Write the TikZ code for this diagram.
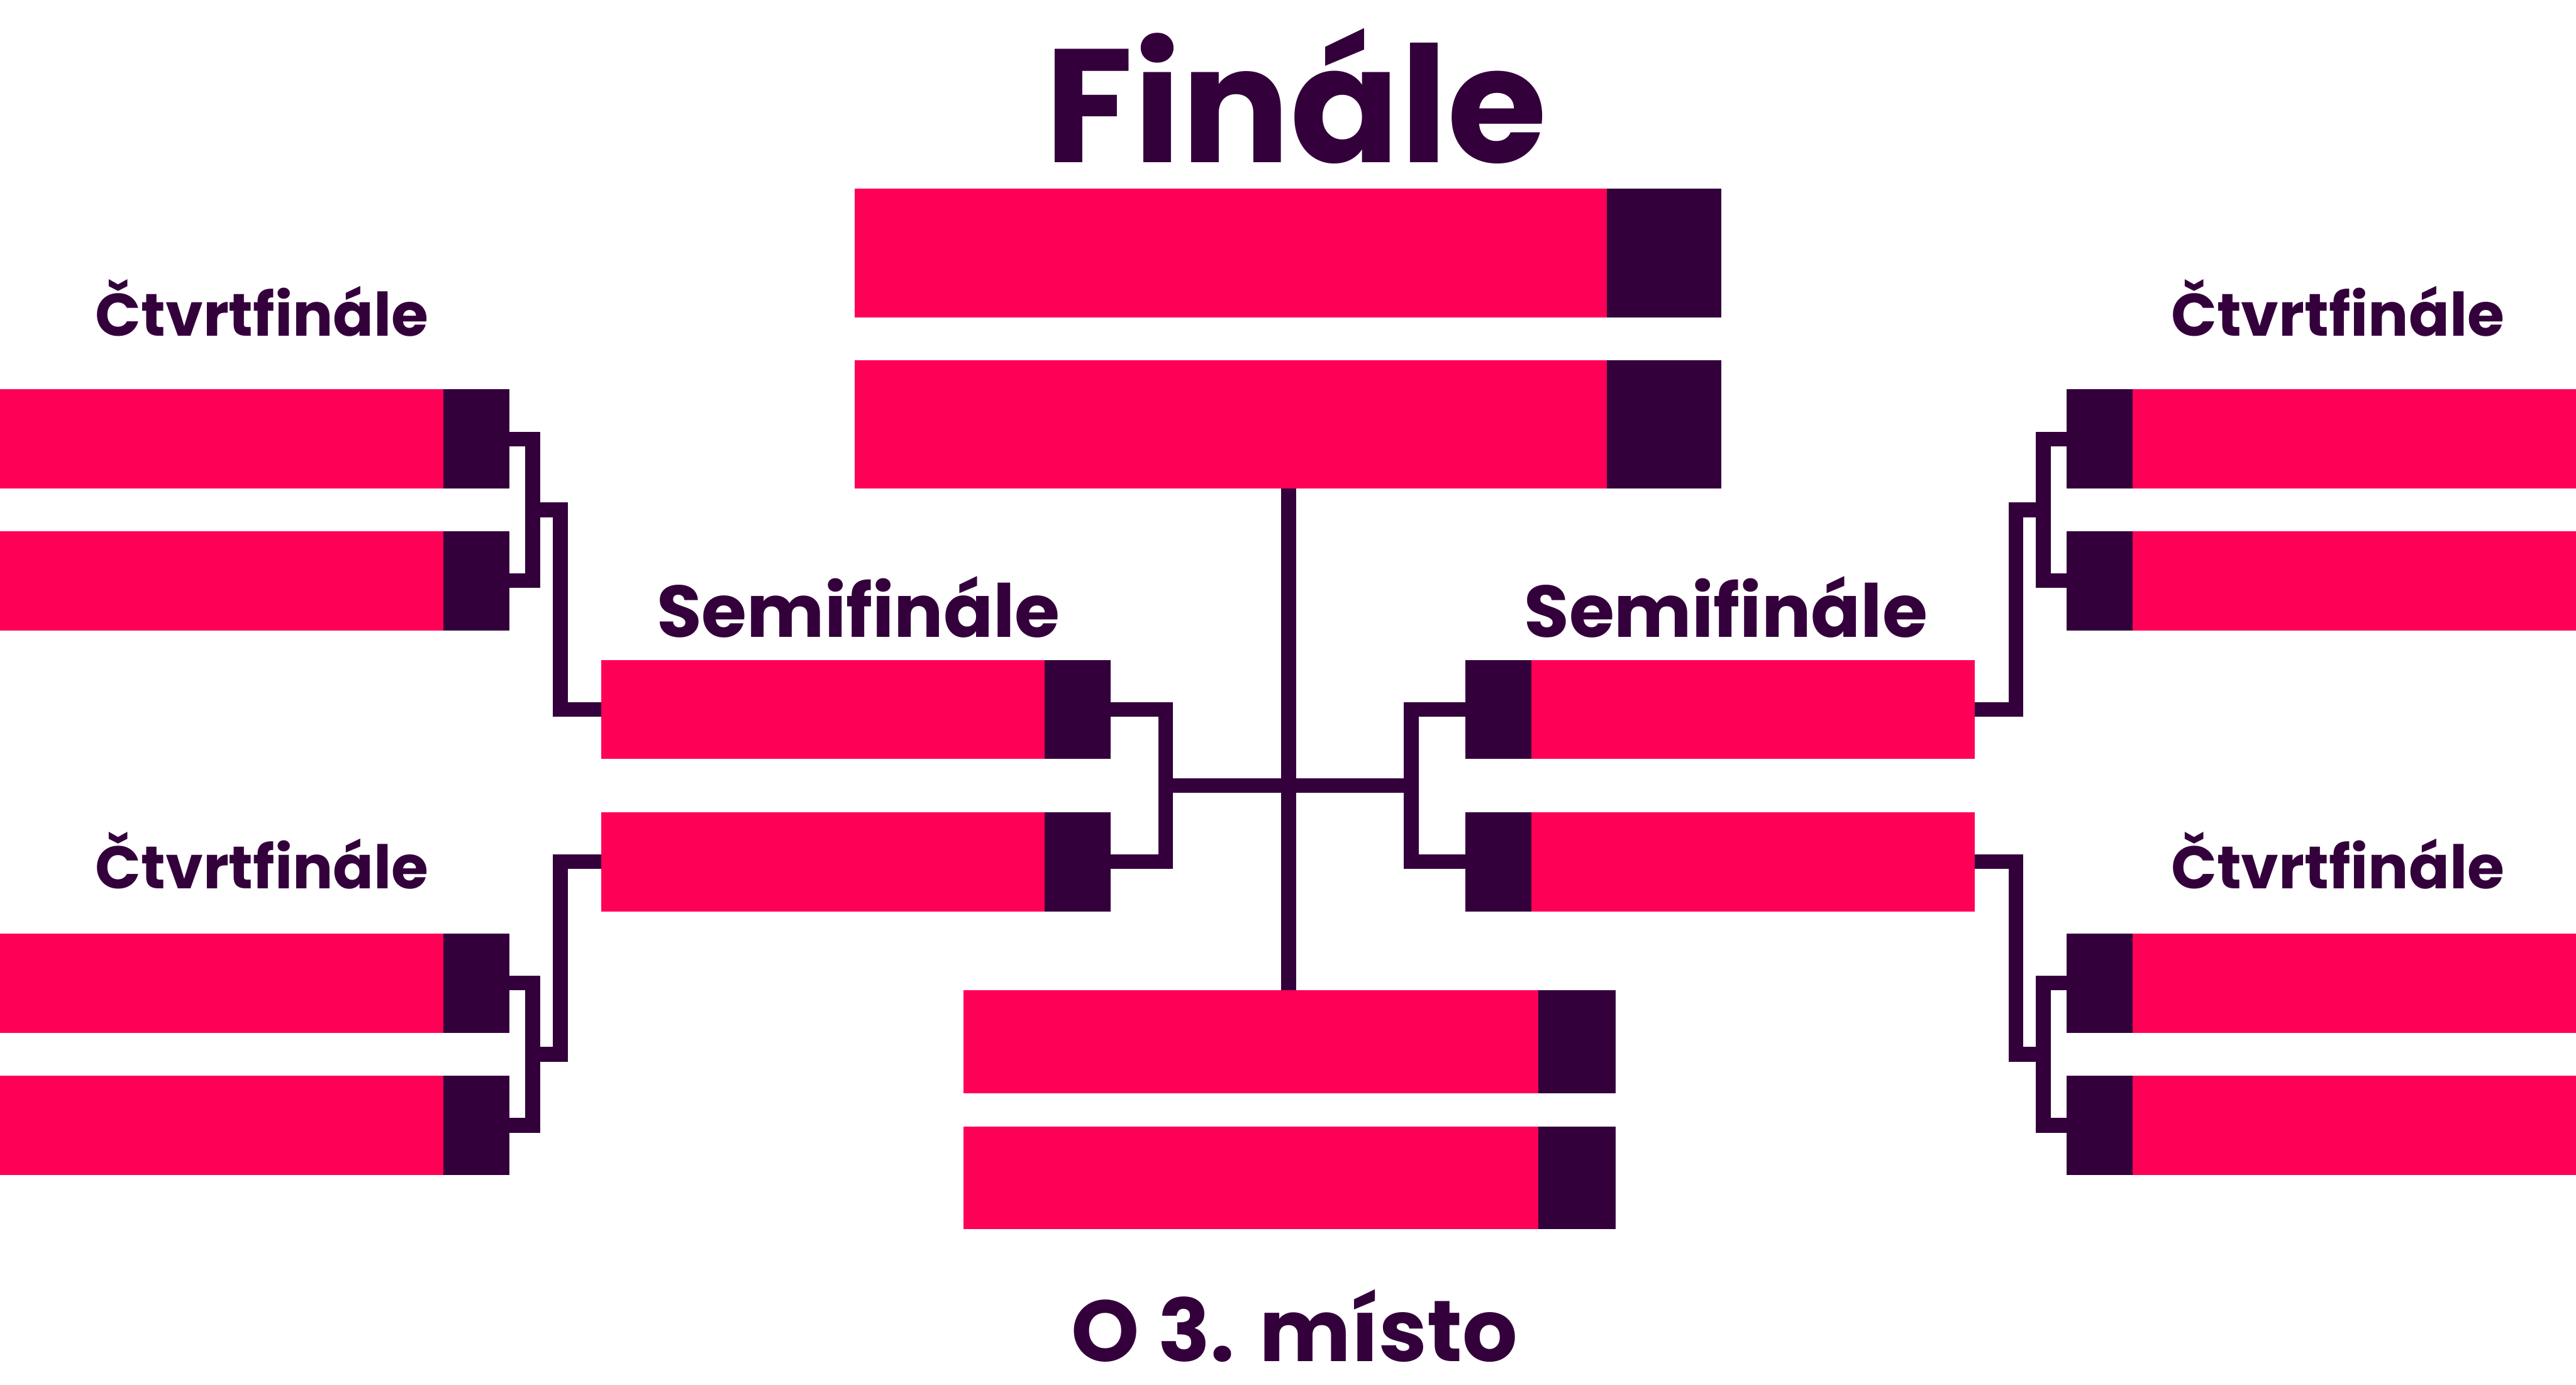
\documentclass[tikz,border=0pt]{standalone}
\usepackage{fontspec}
\setmainfont{Poppins}
\usepackage{tikz}
\usetikzlibrary{calc}
\definecolor{bracketpink}{RGB}{255, 0, 87}
\definecolor{bracketdark}{RGB}{52, 0, 60}

\begin{document}
\begin{tikzpicture}[x=1mm, y=-1mm,
    team/.style={fill=bracketpink, inner sep=0pt, outer sep=0pt, minimum height=6.04mm},
    score/.style={fill=bracketdark, inner sep=0pt, outer sep=0pt, minimum height=6.04mm, minimum width=4mm},
    link/.style={draw=bracketdark, line width=0.9mm},
    stage/.style={text=bracketdark, anchor=base, inner sep=0pt, font=\bfseries\fontsize{#1}{#1}\selectfont}]

    \useasboundingbox (0,0) rectangle (156.8,84.3);

    % Quarter-finals, left and right column
    \foreach \n/\m/\y in {1/5/23.71, 2/6/32.34, 3/7/56.84, 4/8/65.50} {
        \node[team, minimum width=27mm, anchor=north west] (qf\n) at (0,\y) {};
        \node[score, anchor=west] (qf\n-sc) at (qf\n.east) {};
        \node[score, anchor=north west] (qf\m-sc) at (125.8,\y) {};
        \node[team, minimum width=27mm, anchor=west] (qf\m) at (qf\m-sc.east) {};
    }

    % Semi-finals
    \foreach \n/\m/\y in {1/3/40.18, 2/4/49.45} {
        \node[team, minimum width=27mm, anchor=north west] (sf\n) at (36.6,\y) {};
        \node[score, anchor=west] (sf\n-sc) at (sf\n.east) {};
        \node[score, anchor=north west] (sf\m-sc) at (89.2,\y) {};
        \node[team, minimum width=27mm, anchor=west] (sf\m) at (sf\m-sc.east) {};
    }

    % Final
    \foreach \n/\y in {1/11.50, 2/21.92} {
        \node[team, minimum width=45.79mm, minimum height=7.83mm, anchor=north west] (f\n) at (52.03,\y) {};
        \node[score, minimum width=6.95mm, minimum height=7.83mm, anchor=west] (f\n-sc) at (f\n.east) {};
    }

    % Third place
    \foreach \n/\y in {1/60.31, 2/68.60} {
        \node[team, minimum width=35.01mm, minimum height=6.25mm, anchor=north west] (tp\n) at (58.63,\y) {};
        \node[score, minimum width=4.72mm, minimum height=6.25mm, anchor=west] (tp\n-sc) at (tp\n.east) {};
    }

    % Quarter-final brackets
    \foreach \hi/\lo/\nx in {1/2/1, 3/4/2} {
        \draw[link] (qf\hi-sc.east) -- ++(1.43,0) |- (qf\lo-sc.east);
        \draw[link] ($(qf\hi-sc.east)!.5!(qf\lo-sc.east)+(1.43,0)$) -- ++(1.67,0) |- (sf\nx.west);
    }
    \foreach \hi/\lo/\nx in {5/6/3, 7/8/4} {
        \draw[link] (qf\hi-sc.west) -- ++(-1.43,0) |- (qf\lo-sc.west);
        \draw[link] ($(qf\hi-sc.west)!.5!(qf\lo-sc.west)+(-1.43,0)$) -- ++(-1.67,0) |- (sf\nx.east);
    }

    % Semi-final brackets and the centre cross
    \draw[link] (sf1-sc.east) -- ++(3.36,0) |- (sf2-sc.east);
    \draw[link] (sf3-sc.west) -- ++(-3.3,0) |- (sf4-sc.west);
    \coordinate (hubL) at ($(sf1-sc.east)!.5!(sf2-sc.east)+(3.36,0)$);
    \coordinate (hubR) at ($(sf3-sc.west)!.5!(sf4-sc.west)+(-3.3,0)$);
    \coordinate (hub) at ($(hubL)!.5!(hubR)$);
    \draw[link] (hubL) -- (hubR);
    \draw[link] (hub |- f2.south) -- (hub |- tp1.north);

    % Labels
    \node[stage=28] (finale) at (78.9,9.9) {Finále};
    \node[stage=10.4] (qfL1) at (15.95,20.45) {Čtvrtfinále};
    \node[stage=10.4] (qfL2) at (15.95,54.1) {Čtvrtfinále};
    \node[stage=10.4] (qfR1) at (142.3,20.45) {Čtvrtfinále};
    \node[stage=10.4] (qfR2) at (142.3,54.1) {Čtvrtfinále};
    \node[stage=12.7] (sfL) at (52.25,38.8) {Semifinále};
    \node[stage=12.7] (sfR) at (105.05,38.8) {Semifinále};
    \node[stage=15] (third) at (78.8,82.9) {O 3. místo};
\end{tikzpicture}
\end{document}
